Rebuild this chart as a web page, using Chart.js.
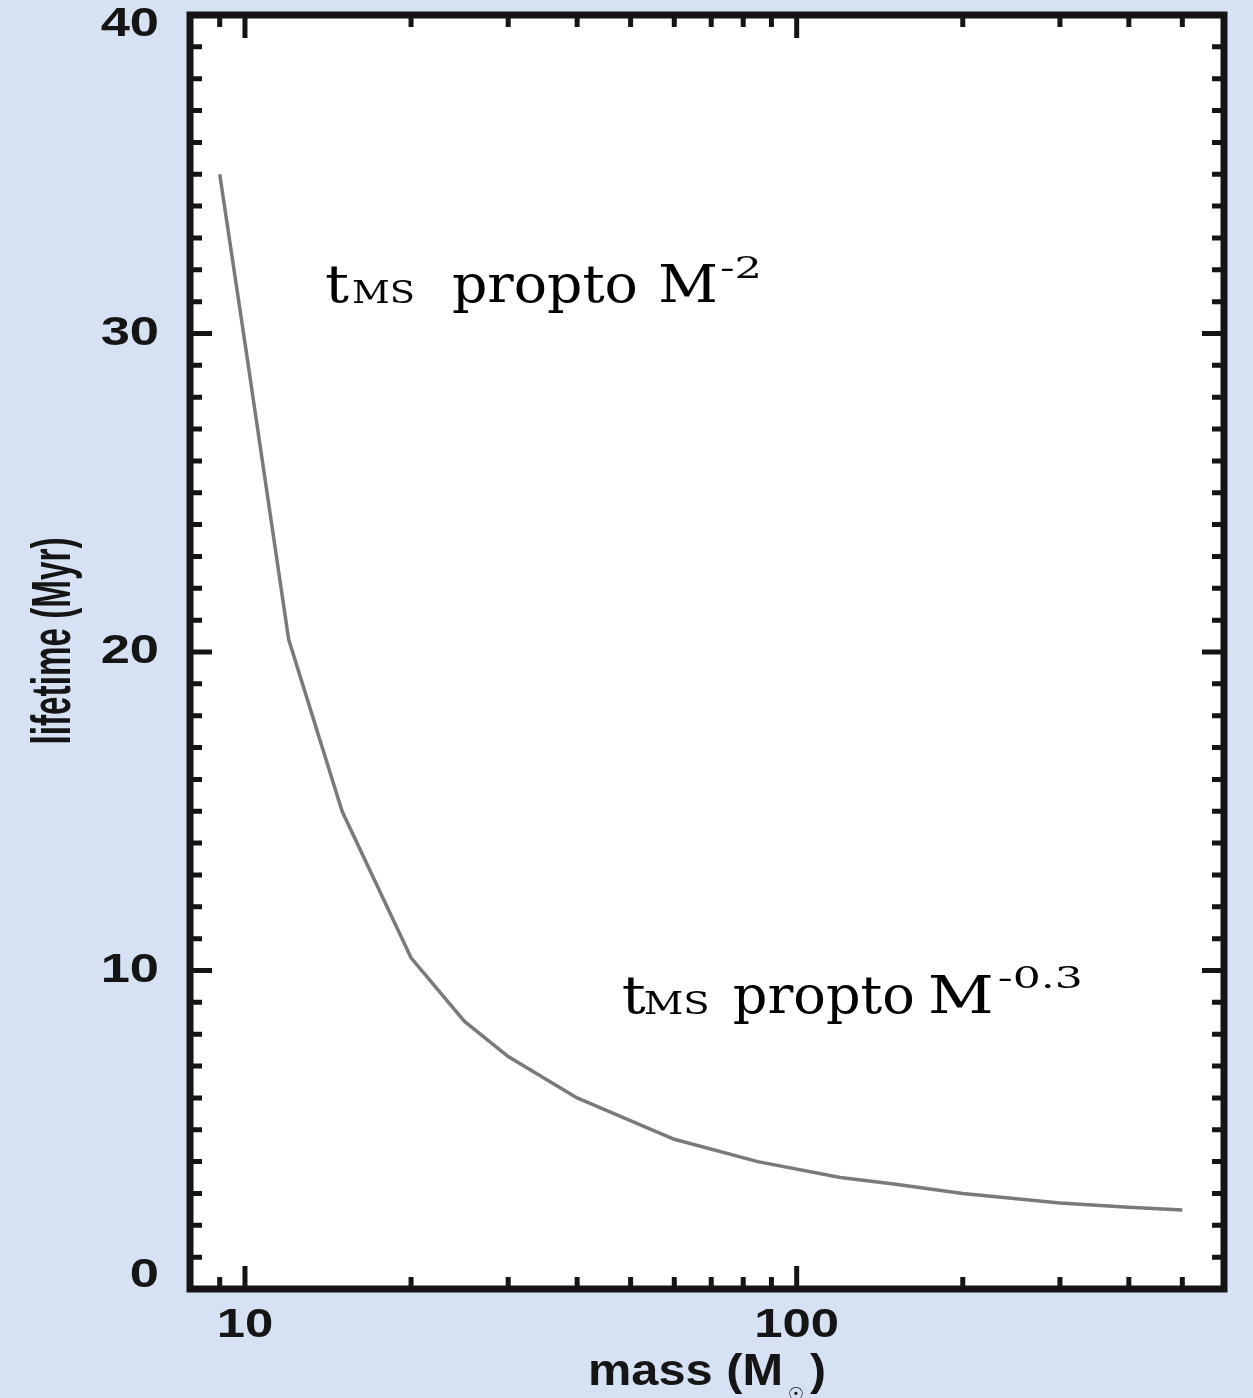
<!DOCTYPE html>
<html>
<head>
<meta charset="utf-8">
<script src="https://cdn.jsdelivr.net/npm/chart.js@4.4.1/dist/chart.umd.min.js"></script>
<style>
  html, body { margin: 0; padding: 0; background: #d6e2f3; }
  canvas { display: block; }
</style>
</head>
<body>
<canvas id="lifeChart" width="1253" height="1398"></canvas>
<script>
// stellar mass (solar masses) vs main-sequence lifetime (Myr)
const masses = [9, 10, 12, 15, 20, 25, 30, 40, 60, 85, 120, 150, 200, 300, 400, 500];
const lifetimes = [35.0, 29.7, 20.4, 15.0, 10.4, 8.4, 7.3, 6.0, 4.7, 4.0, 3.5, 3.3, 3.0, 2.7, 2.57, 2.48];

const xMajorTicks = [10, 100];
const xMinorTicks = [9, 20, 30, 40, 50, 60, 70, 80, 90, 200, 300, 400, 500];
const yMajorTicks = [0, 10, 20, 30, 40];
const yMinorStep = 1;

const xTitle = "mass (M";
const sunSymbol = "\u2609";
const yTitle = "lifetime (Myr)";
const noteTexts = [
  ["t", "MS", "propto", "M", "-2"],
  ["t", "MS", "propto", "M", "-0.3"]
];

const BG = "#d6e2f3";
const INK = "#151515";

function stretchText(ctx, text, x, y, font, sx, align) {
  ctx.save();
  ctx.font = font;
  ctx.textAlign = align || "left";
  ctx.translate(x, y);
  ctx.scale(sx, 1);
  ctx.fillText(text, 0, 0);
  ctx.restore();
}

function fitText(ctx, text, x, y, font, width) {
  ctx.save();
  ctx.font = font;
  const w = ctx.measureText(text).width;
  ctx.translate(x, y);
  ctx.scale(width / w, 1);
  ctx.textAlign = "left";
  ctx.fillText(text, 0, 0);
  ctx.restore();
}

const frameTicks = {
  id: "frameTicks",
  beforeDraw(chart) {
    const { ctx, chartArea: a } = chart;
    ctx.save();
    ctx.fillStyle = BG;
    ctx.fillRect(0, 0, chart.width, chart.height);
    ctx.fillStyle = "#ffffff";
    ctx.fillRect(a.left, a.top, a.right - a.left, a.bottom - a.top);
    ctx.restore();
  },
  afterDraw(chart) {
    const { ctx, chartArea: a } = chart;
    const xs = chart.scales.x, ys = chart.scales.y;
    ctx.save();
    ctx.strokeStyle = INK;
    ctx.fillStyle = INK;

    // inward ticks on all four sides
    ctx.lineWidth = 5;
    ctx.beginPath();
    const xt = (v, len) => {
      const px = xs.getPixelForValue(v);
      ctx.moveTo(px, a.bottom); ctx.lineTo(px, a.bottom - len);
      ctx.moveTo(px, a.top); ctx.lineTo(px, a.top + len);
    };
    const yt = (v, len) => {
      const py = ys.getPixelForValue(v);
      ctx.moveTo(a.left, py); ctx.lineTo(a.left + len, py);
      ctx.moveTo(a.right, py); ctx.lineTo(a.right - len, py);
    };
    xMinorTicks.forEach(v => xt(v, 12));
    xMajorTicks.forEach(v => xt(v, 23));
    for (let v = ys.min; v <= ys.max; v += yMinorStep) {
      if (!yMajorTicks.includes(v)) yt(v, 12);
    }
    yMajorTicks.forEach(v => yt(v, 22));
    ctx.stroke();

    // frame
    ctx.lineWidth = 7;
    ctx.strokeRect(a.left, a.top, a.right - a.left, a.bottom - a.top);

    // tick labels
    const tickFont = 'bold 41px "Liberation Sans", Arial, sans-serif';
    ctx.textBaseline = "middle";
    yMajorTicks.forEach(v => {
      let py = ys.getPixelForValue(v);
      py = Math.min(Math.max(py, a.top + 10), a.bottom - 13);
      stretchText(ctx, String(v), a.left - 31, py, tickFont, 1.28, "right");
    });
    xMajorTicks.forEach(v => {
      const px = xs.getPixelForValue(v);
      stretchText(ctx, String(v), px, a.bottom + 37, tickFont, 1.24, "center");
    });

    // axis titles
    ctx.textBaseline = "alphabetic";
    const titleFont = 'bold 44px "Liberation Sans", Arial, sans-serif';
    fitText(ctx, xTitle, 588, 1385, titleFont, 195);
    fitText(ctx, ")", 810, 1385, titleFont, 16);
    ctx.font = '18px "DejaVu Sans", sans-serif';
    ctx.textAlign = "center";
    ctx.fillText(sunSymbol, 796, 1400);

    ctx.save();
    ctx.translate(70, 641);
    ctx.rotate(-Math.PI / 2);
    ctx.font = 'bold 56px "Liberation Sans", Arial, sans-serif';
    const tw = ctx.measureText(yTitle).width;
    ctx.scale(207 / tw, 1);
    ctx.textAlign = "center";
    ctx.fillText(yTitle, 0, 0);
    ctx.restore();

    // annotations, anchored in data coordinates
    ctx.fillStyle = "#000000";
    const serif = s => s + 'px "DejaVu Serif", serif';
    const layouts = [
      { at: [13.96, 30.99], parts: [[0, 0, 52, 24], [27, 1, 32, 63], [127, 0, 52, 186], [333, 0, 52, 60], [395, -24, 30, 42]] },
      { at: [48.2, 8.67], parts: [[0, 0, 52, 24], [22, 1, 32, 66], [111, 0, 52, 182], [306, 0, 52, 66], [376, -25, 30, 85]] }
    ];
    layouts.forEach((l, i) => {
      const x0 = xs.getPixelForValue(l.at[0]);
      const y0 = ys.getPixelForValue(l.at[1]);
      l.parts.forEach((p, j) => {
        fitText(ctx, noteTexts[i][j], x0 + p[0], y0 + p[1], serif(p[2]), p[3]);
      });
    });
    ctx.restore();
  }
};

const ctx = document.getElementById("lifeChart").getContext("2d");
new Chart(ctx, {
  type: "line",
  data: {
    datasets: [{
      label: "lifetime",
      data: masses.map((m, i) => ({ x: m, y: lifetimes[i] })),
      borderColor: "#7a7a7a",
      borderWidth: 3.5,
      pointRadius: 0,
      tension: 0,
      fill: false
    }]
  },
  options: {
    responsive: false,
    animation: false,
    layout: { padding: { left: 190, right: 29, top: 15, bottom: 109 } },
    plugins: { legend: { display: false }, tooltip: { enabled: false } },
    scales: {
      x: { type: "logarithmic", min: 7.95, max: 595, bounds: "data", display: false },
      y: { type: "linear", min: 0, max: 40, display: false }
    }
  },
  plugins: [frameTicks]
});
</script>
</body>
</html>
